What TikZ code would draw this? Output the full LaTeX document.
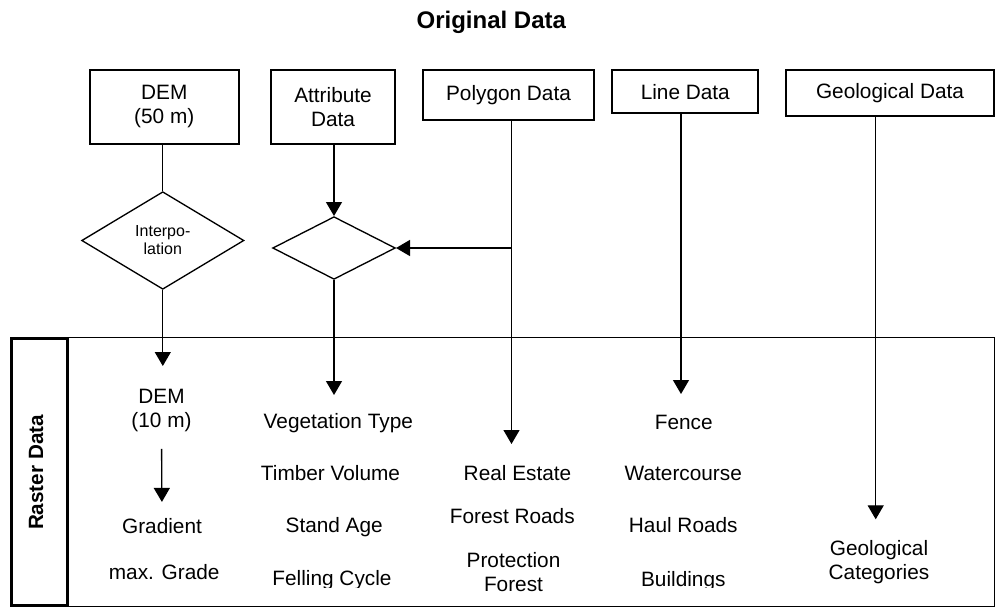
\documentclass[tikz,border=0pt]{standalone}
\usepackage{fontspec}
\setmainfont{Liberation Sans}
\usetikzlibrary{shapes.geometric}
\usetikzlibrary{arrows.meta}

\begin{document}
\begin{tikzpicture}[x=0.75pt,y=-0.75pt,line width=1pt,>={Triangle[width=12pt,length=10.5pt]},
  srcbox/.style={draw,line width=1.5pt,inner sep=0pt,align=center,font=\fontsize{15.6}{18}\selectfont},
  joinbox/.style={draw,diamond,line width=1pt,inner sep=0pt,align=center,font=\fontsize{12}{13.5}\selectfont},
  itemtext/.style={inner sep=0pt,align=center,font=\fontsize{15.6}{18}\selectfont}]
\useasboundingbox (0,0) rectangle (995,608);
\node [inner sep=0pt,anchor=base,font=\bfseries\fontsize{18}{21}\selectfont] (title) at (491.3,28) {Original Data};
\node [srcbox,minimum width=111.4pt,minimum height=55pt] (dem50) at (164.25,106.9) {DEM\\(50 m)};
\node [srcbox,minimum width=93.5pt,minimum height=55pt] (attr) at (333,106.9) {Attribute\\Data};
\node [srcbox,minimum width=128.7pt,minimum height=37.4pt] (poly) at (508.5,95.1) {Polygon Data};
\node [srcbox,minimum width=109.5pt,minimum height=32.1pt] (linedata) at (685.3,91.6) {Line Data};
\node [srcbox,minimum width=156pt,minimum height=34.6pt] (geo) at (890,93.3) {Geological Data};
\node [joinbox,minimum width=121.7pt,minimum height=73.2pt] (interp) at (162.8,240.5) {Interpo-\\lation};
\node [joinbox,minimum width=92pt,minimum height=47pt] (mix) at (334,248) {};
\draw [line width=0.75pt] (67.5,337) rectangle (994,606.5);
\draw [line width=2.25pt] (11.5,338) rectangle (67.5,605.5);
\node [itemtext,anchor=base,rotate=90,font=\bfseries\fontsize{15.5}{18}\selectfont] (raster) at (43,472.5) {Raster Data};
\node [itemtext] (dem10) at (161.5,410.8) {DEM\\(10 m)};
\node [itemtext,anchor=base] (gradient) at (162,533) {Gradient};
\node [itemtext,anchor=base] (grade) at (164.2,579) {max. Grade};
\node [itemtext,anchor=base] (vegtype) at (338.3,428) {Vegetation Type};
\node [itemtext,anchor=base] (timber) at (330.5,480) {Timber Volume};
\node [itemtext,anchor=base] (standage) at (334.2,532) {Stand Age};
\node [itemtext,anchor=base] (estate) at (517.5,480) {Real Estate};
\node [itemtext,anchor=base] (froads) at (512.3,523) {Forest Roads};
\node [itemtext] (protect) at (513.5,571.6) {Protection\\Forest};
\node [itemtext,anchor=base] (fence) at (683.7,429) {Fence};
\node [itemtext,anchor=base] (water) at (683.3,480) {Watercourse};
\node [itemtext,anchor=base] (haul) at (683.3,532) {Haul Roads};
\node [itemtext] (geocat) at (879,561.8) {Geological\\Categories};
\begin{scope}
\clip (0,0) rectangle (995,587.5);
\node [itemtext,anchor=base] (felling) at (332,585) {Felling Cycle};
\node [itemtext,anchor=base] (build) at (683.3,586) {Buildings};
\end{scope}
\coordinate (demtip) at (162.8,366);
\coordinate (vegtip) at (334,395);
\coordinate (polytip) at (511.5,444);
\coordinate (linetip) at (681,394);
\coordinate (geotip) at (875.7,519.3);
\draw (dem50.south -| interp.north) -- (interp.north);
\draw [->] (interp.south) -- (demtip);
\draw [->,shorten <=12pt,shorten >=11.5pt] (dem10.south) -- (gradient.north);
\draw [->] (attr.south -| mix.north) -- (mix.north);
\draw [->] (mix.south) -- (vegtip);
\draw [->] (poly.south -| polytip) -- (polytip);
\draw [->] (mix.east -| polytip) -- (mix.east);
\draw [->] (linedata.south -| linetip) -- (linetip);
\draw [->] (geo.south -| geotip) -- (geotip);
\end{tikzpicture}
\end{document}
